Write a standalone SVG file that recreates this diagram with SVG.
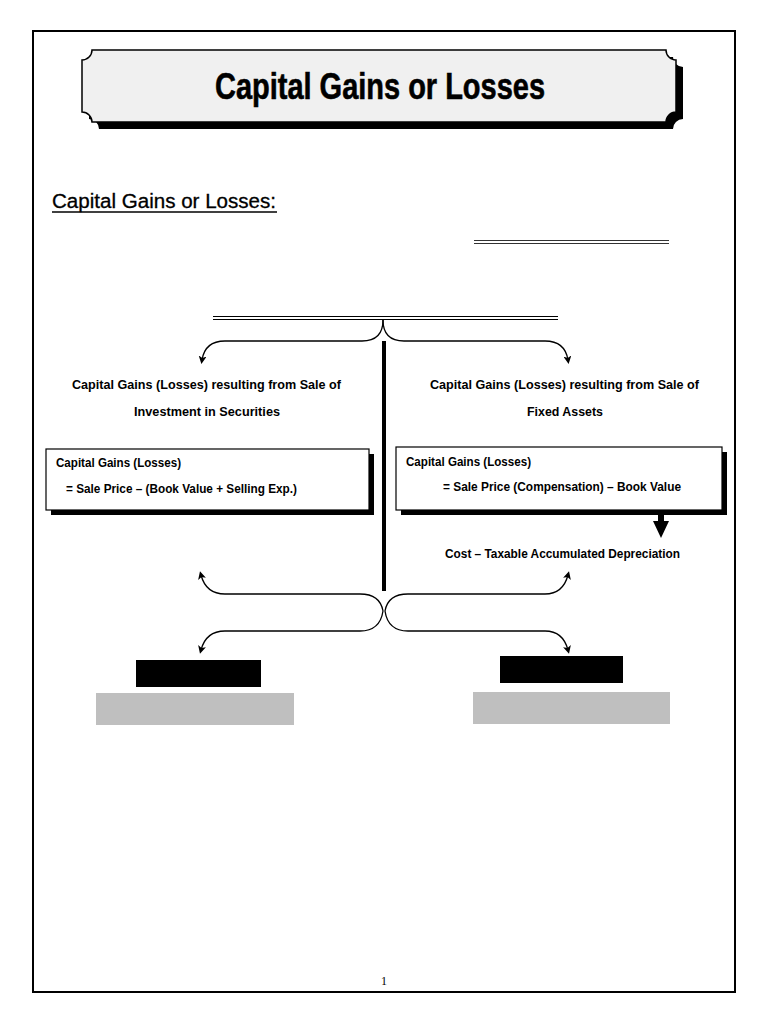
<svg xmlns="http://www.w3.org/2000/svg" width="768" height="1024" viewBox="0 0 768 1024">
<defs>
<style>
.t{font-family:"Liberation Sans",Arial,sans-serif;font-weight:bold;fill:#000}
.c{fill:none;stroke:#000;stroke-width:1.3}
</style>
<marker id="ah" markerWidth="8" markerHeight="8" refX="4" refY="4" orient="auto" markerUnits="userSpaceOnUse">
<path d="M0,0 L8,4 L0,8 L2,4 Z" fill="#000"/>
</marker>
</defs>
<rect width="768" height="1024" fill="#fff"/>
<rect id="page" x="33" y="31" width="702" height="961" fill="none" stroke="#000" stroke-width="2"/>

<g id="banner">
<path transform="translate(7,7)" d="M92,50 H666 A10,10 0 0 0 676,60 V112 A10,10 0 0 0 666,122 H92 A10,10 0 0 0 82,112 V60 A10,10 0 0 0 92,50 Z" fill="#000"/>
<path d="M92,50 H666 A10,10 0 0 0 676,60 V112 A10,10 0 0 0 666,122 H92 A10,10 0 0 0 82,112 V60 A10,10 0 0 0 92,50 Z" fill="#f0f0f0" stroke="#000" stroke-width="1.5"/>
<text class="t" x="215" y="99" font-size="37" textLength="330" lengthAdjust="spacingAndGlyphs" stroke="#000" stroke-width="0.6">Capital Gains or Losses</text>
</g>

<g id="subheading">
<text x="52" y="208" font-family="Liberation Sans,Arial,sans-serif" font-size="20" textLength="224" lengthAdjust="spacingAndGlyphs" fill="#000" stroke="#000" stroke-width="0.3">Capital Gains or Losses:</text>
<line x1="52" y1="212" x2="277" y2="212" stroke="#000" stroke-width="1.3"/>
</g>

<g id="blank-line-1">
<line x1="474" y1="240.5" x2="669" y2="240.5" stroke="#333" stroke-width="1.2"/>
<line x1="474" y1="243.5" x2="669" y2="243.5" stroke="#333" stroke-width="1.2"/>
</g>
<g id="blank-line-2">
<line x1="213" y1="316.5" x2="558" y2="316.5" stroke="#000" stroke-width="1.2"/>
<line x1="213" y1="319.5" x2="558" y2="319.5" stroke="#000" stroke-width="1.2"/>
</g>

<g id="connectors">
<path class="c" d="M383,320 Q383,341 362,341 H225 Q205,341 202,360" marker-end="url(#ah)"/>
<path class="c" d="M383,320 Q383,341 404,341 H545 Q565,341 568,360" marker-end="url(#ah)"/>
<line x1="384" y1="341" x2="384" y2="591" stroke="#000" stroke-width="4"/>
<path class="c" d="M383,611 Q380,594 360,594 H225 Q206,594 201,575" marker-end="url(#ah)"/>
<path class="c" d="M385,611 Q388,594 408,594 H545 Q563,594 568,575" marker-end="url(#ah)"/>
<path class="c" d="M383,611 Q380,631 360,631 H225 Q206,631 201,650" marker-end="url(#ah)"/>
<path class="c" d="M385,611 Q388,631 408,631 H545 Q563,631 568,650" marker-end="url(#ah)"/>
<path id="thick-arrow" d="M658,498 H664 V521 H669 L661,538 L653,521 H658 Z" fill="#000"/>
</g>

<g id="left-heading">
<text class="t" x="72" y="389" font-size="13.5" textLength="269" lengthAdjust="spacingAndGlyphs">Capital Gains (Losses) resulting from Sale of</text>
<text class="t" x="134" y="416" font-size="13.5" textLength="146" lengthAdjust="spacingAndGlyphs">Investment in Securities</text>
</g>
<g id="right-heading">
<text class="t" x="430" y="389" font-size="13.5" textLength="269" lengthAdjust="spacingAndGlyphs">Capital Gains (Losses) resulting from Sale of</text>
<text class="t" x="527" y="416" font-size="13.5" textLength="76" lengthAdjust="spacingAndGlyphs">Fixed Assets</text>
</g>

<g id="left-box">
<rect x="51" y="454" width="323" height="61" fill="#000"/>
<rect x="46" y="449" width="323" height="61" fill="#fff" stroke="#000" stroke-width="1.2"/>
<text class="t" x="56" y="467" font-size="12" textLength="125" lengthAdjust="spacingAndGlyphs">Capital Gains (Losses)</text>
<text class="t" x="66" y="493" font-size="12" textLength="231" lengthAdjust="spacingAndGlyphs">= Sale Price – (Book Value + Selling Exp.)</text>
</g>

<g id="right-box">
<rect x="401" y="452" width="326" height="63" fill="#000"/>
<rect x="396" y="447" width="326" height="63" fill="#fff" stroke="#000" stroke-width="1.2"/>
<text class="t" x="406" y="466" font-size="12" textLength="125" lengthAdjust="spacingAndGlyphs">Capital Gains (Losses)</text>
<text class="t" x="443" y="491" font-size="12" textLength="238" lengthAdjust="spacingAndGlyphs">= Sale Price (Compensation) – Book Value</text>
</g>

<g id="cost-label">
<text class="t" x="445" y="558" font-size="12" textLength="235" lengthAdjust="spacingAndGlyphs">Cost – Taxable Accumulated Depreciation</text>
</g>

<g id="left-result">
<rect x="136" y="660" width="125" height="27" fill="#000"/>
<rect x="96" y="693" width="198" height="32" fill="#bfbfbf"/>
</g>
<g id="right-result">
<rect x="500" y="656" width="123" height="27" fill="#000"/>
<rect x="473" y="692" width="197" height="32" fill="#bfbfbf"/>
</g>

<text id="page-number" x="384" y="985" font-family="Liberation Serif,serif" font-size="12" text-anchor="middle" fill="#000">1</text>
</svg>
